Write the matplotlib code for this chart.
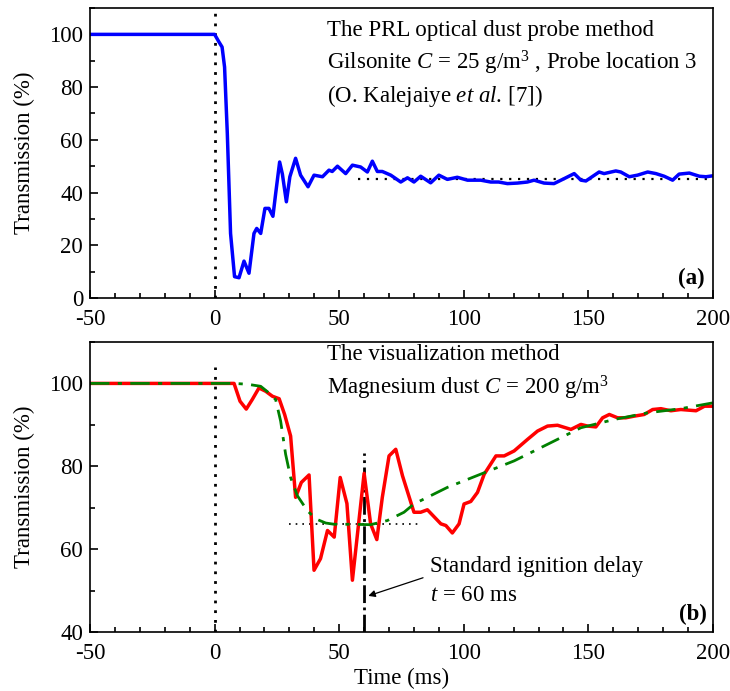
import matplotlib
matplotlib.use("Agg")
import matplotlib.pyplot as plt
from matplotlib.ticker import MultipleLocator

plt.rcParams['font.family'] = ['Liberation Serif', 'DejaVu Serif']
plt.rcParams['mathtext.fontset'] = 'custom'
plt.rcParams['mathtext.rm'] = 'Liberation Serif'
plt.rcParams['mathtext.it'] = 'Liberation Serif:italic'
plt.rcParams['mathtext.bf'] = 'Liberation Serif:bold'
plt.rcParams['axes.unicode_minus'] = False

# -----------------------------
# (a) PRL optical dust probe, Gilsonite
# -----------------------------
t_a = [-50, 0, 1.7, 3.0, 4.0, 5.1, 6.4, 8.0, 9.8, 11.8, 13.8, 15.8, 16.9, 18.5,
       20.2, 21.8, 23.4, 24.5, 26.1, 27.2, 28.8, 30.2, 32.5, 34.5, 37.5, 39.9,
       43.3, 45.9, 47.2, 49.3, 52.6, 55.3, 58.6, 61.3, 63.3, 65.3, 67.3, 70.7,
       74.7, 77.4, 80.0, 82.7, 86.7, 90.0, 93.4, 97.4, 101.5, 106.8, 110.8,
       114.0, 117.5, 121.5, 125.5, 128.2, 132.2, 136.2, 140.3, 144.3, 147.0,
       149.0, 154.3, 156.3, 161.0, 163.0, 166.4, 169.7, 173.8, 177.1, 180.4,
       183.8, 186.4, 190.5, 194.5, 197.2, 199.5]
tr_a = [100, 100, 97.2, 95.2, 87.6, 62.4, 24.5, 8.1, 7.7, 14.0, 9.4, 24.5, 26.4,
        24.5, 34.0, 34.0, 31.0, 39.6, 51.6, 47.0, 36.5, 46.0, 53.0, 46.6, 42.2,
        46.6, 46.0, 48.5, 48.0, 50.0, 47.2, 50.4, 49.7, 47.8, 51.9, 48.0, 48.0,
        46.6, 44.0, 45.6, 44.0, 46.2, 43.7, 46.6, 45.0, 45.8, 44.7, 44.7, 44.0,
        44.0, 43.4, 43.6, 44.0, 44.7, 43.6, 43.4, 45.3, 47.2, 44.7, 44.4, 47.8,
        47.2, 48.2, 47.8, 46.0, 46.6, 47.8, 47.2, 46.2, 44.7, 47.0, 47.4, 46.2,
        46.0, 46.3]

# -----------------------------
# (b) visualization method, Magnesium dust
# -----------------------------
t_b = [-50, 7.8, 10.2, 12.7, 15.1, 17.8, 20.5, 23.2, 25.9, 28.1, 30.5, 32.5,
       34.8, 37.9, 39.9, 42.5, 45.3, 48.0, 50.4, 53.1, 55.3, 60.0, 62.6, 65.1,
       67.3, 70.0, 72.7, 75.4, 80.0, 82.7, 85.4, 90.8, 92.8, 95.4, 98.1, 100.1,
       102.8, 105.5, 108.2, 112.9, 116.2, 120.2, 125.6, 129.6, 133.6, 137.6,
       143.0, 147.0, 149.7, 153.0, 155.7, 158.4, 161.7, 165.0, 168.4, 172.4,
       175.8, 179.1, 183.1, 187.1, 193.2, 196.6, 199.9]
tr_b = [100, 100, 95.7, 93.8, 96.1, 98.9, 98.1, 96.9, 96.3, 92.5, 87.3, 72.5,
        76.1, 77.9, 54.9, 57.7, 64.5, 62.9, 77.3, 71.0, 52.5, 78.3, 66.1, 62.3,
        72.5, 82.5, 84.1, 77.7, 68.9, 68.9, 69.5, 66.1, 65.7, 63.9, 66.1, 70.9,
        71.5, 73.7, 78.1, 82.5, 82.5, 83.7, 86.5, 88.5, 89.7, 89.9, 88.9, 90.1,
        89.7, 89.5, 91.7, 92.5, 91.7, 91.7, 92.1, 92.5, 93.7, 93.9, 93.4, 93.7,
        93.4, 94.5, 94.5]

t_fit = [-50, 7.8, 13.2, 18.5, 21.8, 24.5, 26.5, 28.5, 30.5, 33.2, 37.2, 40.6,
         44.6, 48.0, 55.0, 62.6, 69.3, 76.0, 80.0, 93.4, 106.8, 120.2, 133.6,
         147.0, 160.4, 173.8, 187.1, 199.9]
tr_fit = [100, 100, 99.8, 99.3, 97.7, 96.1, 90.9, 82.9, 77.3, 72.9, 69.3, 67.3,
          66.3, 66.0, 66.0, 65.9, 66.9, 68.9, 70.9, 74.9, 78.1, 81.3, 85.3,
          89.3, 91.3, 92.9, 93.9, 95.3]

level_a = 45      # steady-state level in (a)
level_b = 66      # minimum level in (b)
t_ignition = 60

fig = plt.figure(figsize=(7.3, 6.91), dpi=100)
ax1 = fig.add_axes([0.1233, 0.5687, 0.8534, 0.4197])
ax2 = fig.add_axes([0.1233, 0.0854, 0.8534, 0.4197])

fs = 16.5

for ax in (ax1, ax2):
    ax.set_xlim(-50, 200)
    ax.xaxis.set_major_locator(MultipleLocator(50))
    ax.xaxis.set_minor_locator(MultipleLocator(10))
    ax.tick_params(which='both', direction='in', top=False, right=False,
                   labelsize=fs, width=1.2)
    ax.tick_params(which='major', length=6)
    ax.tick_params(which='minor', length=3.5)
    ax.tick_params(axis='x', pad=8)
    ax.tick_params(axis='y', pad=5)
    ax.set_ylabel('Transmission (%)', fontsize=fs, labelpad=10)
    for s in ax.spines.values():
        s.set_linewidth(1.2)

# panel (a)
ax1.set_ylim(0, 110)
ax1.yaxis.set_major_locator(MultipleLocator(20))
ax1.yaxis.set_minor_locator(MultipleLocator(10))
ax1.plot([0, 0], [0, 108], color='black', ls=(0, (1, 2.5)), lw=2)
ax1.plot([57.7, 199], [level_a, level_a], color='black', ls=(0, (1, 3)), lw=1.6)
ax1.plot(t_a, tr_a, color='#0000ff', lw=2.5)
ax1.text(45.3, 101.5, 'The PRL optical dust probe method', fontsize=fs, va='center')
ax1.text(45.3, 89, r'Gilsonite $C$ = 25 g/m$^3$ , Probe location 3', fontsize=fs, va='center')
ax1.text(45.3, 76.5, r'(O. Kalejaiye $et$ $al$. [7])', fontsize=fs, va='center')
ax1.text(196.5, 7.5, '(a)', fontsize=fs, fontweight='bold', ha='right', va='center')

# panel (b)
ax2.set_ylim(40, 110)
ax2.yaxis.set_major_locator(MultipleLocator(20))
ax2.yaxis.set_minor_locator(MultipleLocator(10))
ax2.plot([0, 0], [40, 104], color='black', ls=(0, (1, 2.5)), lw=2)
ax2.plot([29.9, 82.7], [level_b, level_b], color='black', ls=(0, (1, 3)), lw=1.2)
ax2.plot([t_ignition, t_ignition], [40, 83.3], color='black', ls='-.', lw=2)
ax2.plot(t_b, tr_b, color='#ff0000', lw=2.5)
ax2.plot(t_fit, tr_fit, color='#008000', ls=(0, (7, 3, 1.5, 3)), lw=2)
ax2.text(45.3, 107, 'The visualization method', fontsize=fs, va='center')
ax2.text(45.3, 98.8, r'Magnesium dust $C$ = 200 g/m$^3$', fontsize=fs, va='center')
ax2.text(86.5, 55.7, 'Standard ignition delay', fontsize=fs, va='center')
ax2.text(86.5, 48.9, r'$t$ = 60 ms', fontsize=fs, va='center')
ax2.annotate('', xy=(60.6, 48.5), xytext=(84.7, 53.3),
             arrowprops=dict(arrowstyle='-|>', color='black', lw=0.9,
                             mutation_scale=10))
ax2.text(197.5, 44.3, '(b)', fontsize=fs, fontweight='bold', ha='right', va='center')
ax2.set_xlabel('Time (ms)', fontsize=fs, labelpad=3)

fig.savefig('out.png', dpi=100)
